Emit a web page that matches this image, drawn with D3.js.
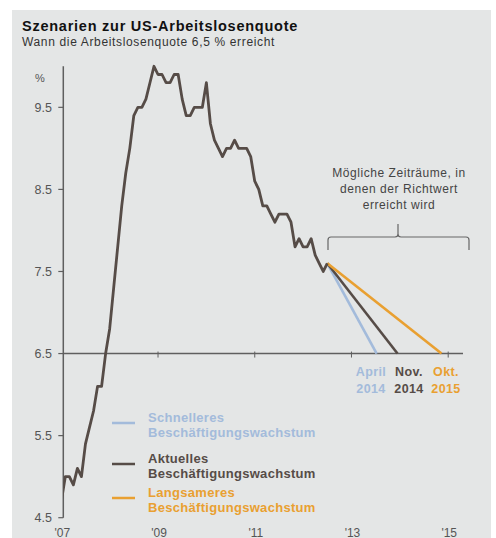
<!DOCTYPE html>
<meta charset="utf-8">
<style>
body { margin: 0; background: #fff; }
svg text { font-family: "Liberation Sans", Arial, sans-serif; }
</style>

<!-- Load d3.js -->
<script src="https://d3js.org/d3.v7.min.js"></script>

<div id="my_dataviz"></div>

<script>

// monthly unemployment rate, one value per month
var startYear = 2007 - 1 / 24;
var rates = [4.7, 5.0, 5.0, 4.9, 5.1, 5.0, 5.4, 5.6, 5.8, 6.1, 6.1, 6.5, 6.8, 7.3,
  7.8, 8.3, 8.7, 9.0, 9.4, 9.5, 9.5, 9.6, 9.8, 10.0, 9.9, 9.9,
  9.8, 9.8, 9.9, 9.9, 9.6, 9.4, 9.4, 9.5, 9.5, 9.5, 9.8, 9.3,
  9.1, 9.0, 8.9, 9.0, 9.0, 9.1, 9.0, 9.0, 9.0, 8.9, 8.6, 8.5,
  8.3, 8.3, 8.2, 8.1, 8.2, 8.2, 8.2, 8.1, 7.8, 7.9, 7.8, 7.8,
  7.9, 7.7, 7.6, 7.5, 7.6];

// scenarios: when the 6.5 threshold is reached
var scenarioNames = ["Schnelleres", "Aktuelles", "Langsameres"];
var scenarioEnd = [2013.48, 2013.91, 2014.82];
var scenarioMonth = ["April", "Nov.", "Okt."];
var scenarioYear = ["2014", "2014", "2015"];
var colors = ["#a3bbdb", "#564c47", "#e9a031"];

var threshold = 6.5;
var yTicks = [4.5, 5.5, 6.5, 7.5, 8.5, 9.5];
var xTicks = [2007, 2009, 2011, 2013, 2015];

var W = 496, H = 538;

var svg = d3.select("#my_dataviz")
  .append("svg")
    .attr("width", W)
    .attr("height", H);

// grey panel
svg.append("rect")
  .attr("x", 12).attr("y", 10)
  .attr("width", W - 17).attr("height", H - 10)
  .attr("fill", "#e4e6e6");

svg.append("text")
  .attr("x", 22).attr("y", 31)
  .style("font-size", "14.5px").style("font-weight", "bold")
  .style("letter-spacing", "0.75px")
  .attr("fill", "#111")
  .text("Szenarien zur US-Arbeitslosenquote");
svg.append("text")
  .attr("x", 22).attr("y", 46)
  .style("font-size", "12px")
  .style("letter-spacing", "0.65px")
  .attr("fill", "#333")
  .text("Wann die Arbeitslosenquote 6,5 % erreicht");

var x = d3.scaleLinear().domain([2007, 2015]).range([63.3, 450.2]);
var y = d3.scaleLinear().domain([4.5, 10]).range([517.7, 66.3]);

// y axis
svg.append("line")
  .attr("x1", x(2007)).attr("x2", x(2007))
  .attr("y1", y(10)).attr("y2", y(4.5))
  .attr("stroke", "#5f5f5f").attr("stroke-width", 1.5);

svg.selectAll(".ytick")
  .data(yTicks)
  .enter().append("line")
    .attr("x1", x(2007) - 5).attr("x2", x(2007))
    .attr("y1", function(d) { return y(d); })
    .attr("y2", function(d) { return y(d); })
    .attr("stroke", "#5f5f5f").attr("stroke-width", 1.2);

svg.selectAll(".ylab")
  .data(yTicks)
  .enter().append("text")
    .attr("x", 52)
    .attr("y", function(d) { return y(d) + 4.5; })
    .attr("text-anchor", "end")
    .style("font-size", "12.5px")
    .attr("fill", "#555")
    .text(function(d) { return d.toFixed(1); });

svg.append("text")
  .attr("x", 40).attr("y", 82)
  .attr("text-anchor", "middle")
  .style("font-size", "11px")
  .attr("fill", "#555")
  .text("%");

// 6.5 threshold line
svg.append("line")
  .attr("x1", x(2007)).attr("x2", 463)
  .attr("y1", y(threshold)).attr("y2", y(threshold))
  .attr("stroke", "#5f5f5f").attr("stroke-width", 1.5);

svg.selectAll(".xtick")
  .data(xTicks.slice(1))
  .enter().append("line")
    .attr("x1", function(d) { return x(d) - 2; })
    .attr("x2", function(d) { return x(d) - 2; })
    .attr("y1", y(threshold) - 2).attr("y2", y(threshold) + 4)
    .attr("stroke", "#5f5f5f").attr("stroke-width", 1);

svg.selectAll(".xlab")
  .data(xTicks)
  .enter().append("text")
    .attr("x", function(d) { return x(d) - 1; })
    .attr("y", 536.5)
    .attr("text-anchor", "middle")
    .style("font-size", "12px")
    .attr("fill", "#555")
    .text(function(d) { return "'" + String(d).slice(2); });

// history
var points = rates.map(function(v, i) { return [startYear + i / 12, v]; });
var last = points[points.length - 1];

svg.append("clipPath").attr("id", "clip")
  .append("rect")
    .attr("x", x(2007)).attr("y", 0)
    .attr("width", W).attr("height", H);

var line = d3.line()
  .x(function(d) { return x(d[0]); })
  .y(function(d) { return y(d[1]); });

// scenario lines (drawn under the history line)
svg.selectAll(".scen")
  .data(scenarioEnd)
  .enter().append("line")
    .attr("x1", x(last[0])).attr("y1", y(last[1]))
    .attr("x2", function(d) { return x(d); })
    .attr("y2", y(threshold))
    .attr("stroke", function(d, i) { return colors[i]; })
    .attr("stroke-width", 2.6);

svg.append("path")
  .datum(points)
  .attr("clip-path", "url(#clip)")
  .attr("d", line)
  .attr("fill", "none")
  .attr("stroke", colors[1])
  .attr("stroke-width", 2.8)
  .attr("stroke-linejoin", "round");

// end labels under the threshold line
var endLab = svg.selectAll(".endlab")
  .data(scenarioEnd)
  .enter().append("text")
    .attr("text-anchor", "middle")
    .style("font-size", "12.5px").style("font-weight", "bold")
    .style("letter-spacing", "0.4px")
    .attr("fill", function(d, i) { return colors[i]; });
var labX = [371, 409, 446];
endLab.append("tspan")
  .attr("x", function(d, i) { return labX[i]; }).attr("y", 376)
  .text(function(d, i) { return scenarioMonth[i]; });
endLab.append("tspan")
  .attr("x", function(d, i) { return labX[i]; }).attr("y", 393)
  .text(function(d, i) { return scenarioYear[i]; });

// annotation with brace
var note = ["Mögliche Zeiträume, in", "denen der Richtwert", "erreicht wird"];
svg.selectAll(".note")
  .data(note)
  .enter().append("text")
    .attr("x", 399)
    .attr("y", function(d, i) { return 177 + i * 16; })
    .attr("text-anchor", "middle")
    .style("font-size", "12px")
    .style("letter-spacing", "0.55px")
    .attr("fill", "#444")
    .text(function(d) { return d; });

var bx0 = 328, bx1 = 469, bxm = 398, by = 237;
svg.append("path")
  .attr("d", "M" + bx0 + "," + (by + 13) + " L" + bx0 + "," + (by + 3) +
    " Q" + bx0 + "," + by + " " + (bx0 + 3) + "," + by +
    " L" + (bxm - 3) + "," + by +
    " Q" + bxm + "," + by + " " + bxm + "," + (by - 3) +
    " L" + bxm + "," + (by - 13) +
    " M" + bxm + "," + (by - 3) +
    " Q" + bxm + "," + by + " " + (bxm + 3) + "," + by +
    " L" + (bx1 - 3) + "," + by +
    " Q" + bx1 + "," + by + " " + bx1 + "," + (by + 3) +
    " L" + bx1 + "," + (by + 13))
  .attr("fill", "none")
  .attr("stroke", "#666")
  .attr("stroke-width", 1.2);

// legend
var legY = [423, 464, 498];
var legend = svg.selectAll(".legend")
  .data(scenarioNames)
  .enter().append("g")
    .attr("transform", function(d, i) { return "translate(0," + legY[i] + ")"; });

legend.append("line")
  .attr("x1", 112).attr("x2", 135)
  .attr("stroke", function(d, i) { return colors[i]; })
  .attr("stroke-width", 2.5);

var legText = legend.append("text")
  .style("font-size", "13px")
  .style("font-weight", "bold")
  .style("letter-spacing", "0.3px")
  .attr("fill", function(d, i) { return colors[i]; });
legText.append("tspan")
  .attr("x", 148).attr("y", -1)
  .text(function(d) { return d; });
legText.append("tspan")
  .attr("x", 148).attr("y", 14)
  .text("Beschäftigungswachstum");

</script>
